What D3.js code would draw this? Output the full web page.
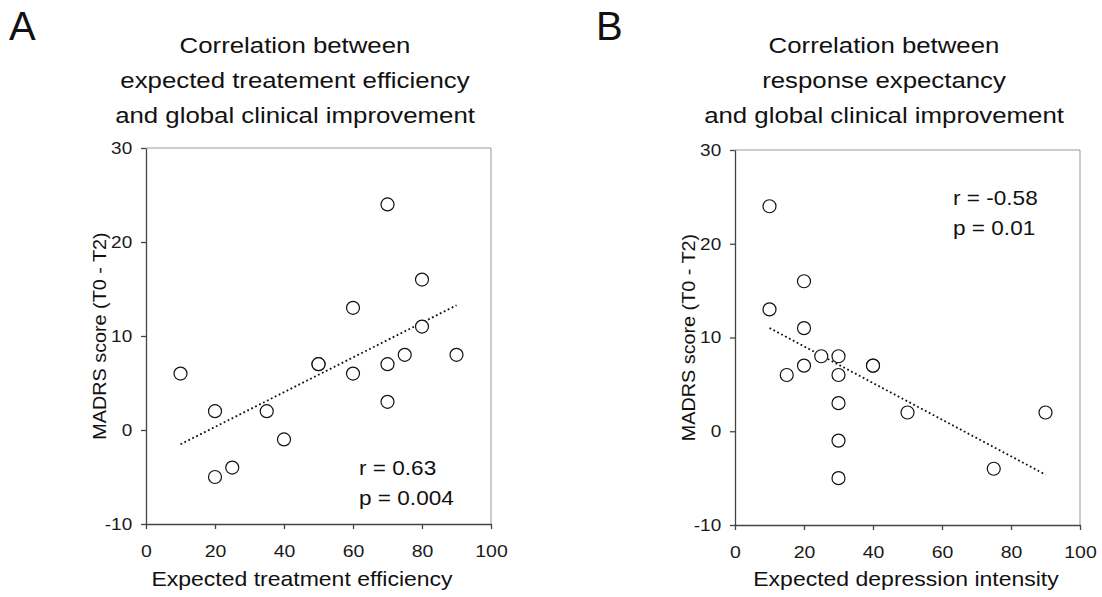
<!DOCTYPE html>
<html lang="en">
<head>
<meta charset="UTF-8">
<title>Correlation panels</title>
<script src="https://d3js.org/d3.v7.min.js"></script>
<style>
  body { margin: 0; background: #fff; }
  text { font-family: "Liberation Sans", Arial, sans-serif; fill: #111; }
  .axis path, .axis line { stroke: #444; stroke-width: 1.3; }
  .axis text { font-family: "Liberation Sans", Arial, sans-serif; fill: #1a1a1a; }
  .frame { stroke: #999; stroke-width: 1; fill: none; }
  .trend { fill: none; stroke: #111; stroke-width: 1.8; stroke-dasharray: 1.8,2.6; }
  circle { fill: #fff; stroke: #111; stroke-width: 1.2; }
</style>
</head>
<body>
<script>
// panel A: expected treatment efficiency vs MADRS change
var effA = [10, 20, 20, 25, 35, 40, 50, 50, 60, 60, 70, 70, 70, 75, 80, 80, 90];
var madrsA = [6, 2, -5, -4, 2, -1, 7, 7, 13, 6, 24, 7, 3, 8, 16, 11, 8];
// panel B: expected depression intensity vs MADRS change
var depB = [10, 20, 10, 20, 25, 30, 20, 40, 40, 15, 30, 30, 50, 90, 30, 30, 75];
var madrsB = [24, 16, 13, 11, 8, 8, 7, 7, 7, 6, 6, 3, 2, 2, -1, -5, -4];

var xTicks = [0, 20, 40, 60, 80, 100];
var yTicks = [-10, 0, 10, 20, 30];
var titleA = ["Correlation between", "expected treatement efficiency", "and global clinical improvement"];
var titleB = ["Correlation between", "response expectancy", "and global clinical improvement"];
var statsA = ["r = 0.63", "p = 0.004"];
var statsB = ["r = -0.58", "p = 0.01"];

var svg = d3.select("body").append("svg")
  .attr("width", 1102).attr("height", 597);

function fit(xs, ys) {
  var mx = d3.mean(xs), my = d3.mean(ys);
  var sxy = d3.sum(xs, function(d, i) { return (d - mx) * (ys[i] - my); });
  var sxx = d3.sum(xs, function(d) { return (d - mx) * (d - mx); });
  var b = sxy / sxx;
  return function(x) { return my + b * (x - mx); };
}

// the original lettering is a bit wider than Liberation Sans, so stretch it
function label(g, x, y, size, sx, anchor, txt) {
  return g.append("text")
    .attr("transform", "translate(" + x + "," + y + ") scale(" + sx + ",1)")
    .attr("text-anchor", anchor)
    .style("font-size", size + "px")
    .text(txt);
}

function panel(o) {
  var x = d3.scaleLinear().domain([0, 100]).range([o.left, o.right]);
  var y = d3.scaleLinear().domain([-10, 30]).range([o.bottom, o.top]);
  var g = svg.append("g");

  // light frame top/right
  g.append("path").attr("class", "frame")
    .attr("d", "M" + o.left + "," + o.top + "H" + o.right + "V" + o.bottom);

  g.append("g").attr("class", "axis")
    .attr("transform", "translate(0," + o.bottom + ")")
    .call(d3.axisBottom(x).tickValues(xTicks).tickSize(5).tickSizeOuter(0).tickPadding(16)
      .tickFormat(function(d) { return String(d); }))
    .selectAll("text").style("font-size", "16.5px").attr("transform", "scale(1.18,1)");

  g.append("g").attr("class", "axis")
    .attr("transform", "translate(" + o.left + ",0)")
    .call(d3.axisLeft(y).tickValues(yTicks).tickSize(5).tickSizeOuter(0).tickPadding(7)
      .tickFormat(function(d) { return String(d); }))
    .selectAll("text").style("font-size", "16.5px").attr("transform", "scale(1.15,1)");

  // regression line over data range
  var f = fit(o.xs, o.ys);
  var ext = d3.extent(o.xs);
  g.append("path").attr("class", "trend")
    .attr("d", d3.line()([[x(ext[0]), y(f(ext[0]))], [x(ext[1]), y(f(ext[1]))]]));

  g.selectAll("circle").data(o.xs).enter().append("circle")
    .attr("cx", function(d) { return x(d); })
    .attr("cy", function(d, i) { return y(o.ys[i]); })
    .attr("r", 6.5);

  // panel letter and titles
  label(g, o.letterX, 40, 40, 1, "start", o.letter);
  o.title.forEach(function(t, i) {
    label(g, o.titleX, 53 + i * 35, 21.5, 1.2, "middle", t);
  });

  g.append("text")
    .attr("transform", "translate(" + o.ylabX + "," + ((o.top + o.bottom) / 2) + ") rotate(-90) scale(1.1,1)")
    .attr("text-anchor", "middle")
    .style("font-size", "18px")
    .text("MADRS score (T0 - T2)");

  label(g, o.xlabX, 586, 20, 1.15, "middle", o.xlab);

  o.stats.forEach(function(t, i) {
    label(g, o.statX, o.statY + i * 30, 20, 1.13, "start", t);
  });
}

panel({
  xs: effA, ys: madrsA, left: 146, right: 491, top: 148, bottom: 524,
  letter: "A", letterX: 9, title: titleA, titleX: 295, ylabX: 106,
  xlab: "Expected treatment efficiency", xlabX: 302,
  stats: statsA, statX: 359, statY: 475
});

panel({
  xs: depB, ys: madrsB, left: 735, right: 1080, top: 150, bottom: 525,
  letter: "B", letterX: 596, title: titleB, titleX: 884, ylabX: 695,
  xlab: "Expected depression intensity", xlabX: 906,
  stats: statsB, statX: 953, statY: 205
});
</script>
</body>
</html>
